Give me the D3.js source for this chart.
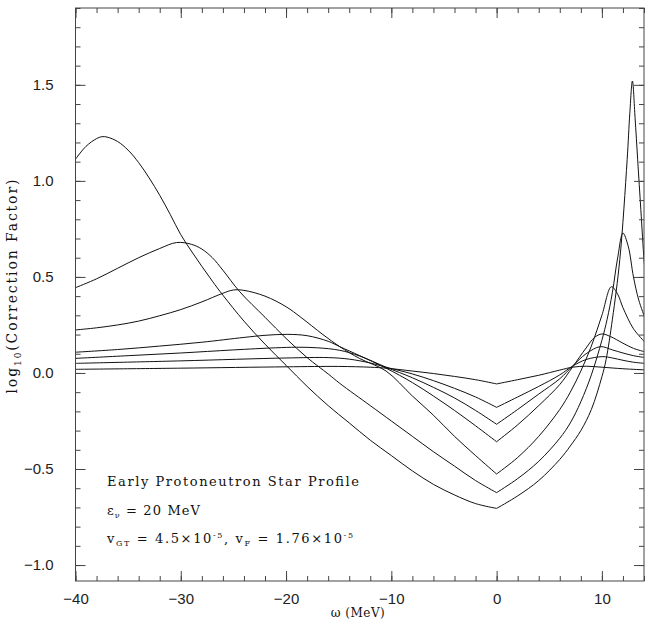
<!DOCTYPE html>
<html>
<head>
<meta charset="utf-8">
<script src="https://cdn.jsdelivr.net/npm/d3@7"></script>
<style>
  body { margin: 0; background: #fff; }
  svg { display: block; }
</style>
</head>
<body>
<div id="chart"></div>
<script>
// each curve: [omega (MeV), log10(correction factor)]
const curveA = [
  [-40, 1.113], [-39, 1.18], [-38, 1.22], [-37.5, 1.23], [-37, 1.228], [-36, 1.205], [-35, 1.16],
  [-34, 1.095], [-33, 1.015], [-32, 0.925], [-31, 0.825], [-30, 0.72], [-29, 0.635], [-28, 0.555],
  [-27, 0.478], [-26, 0.405], [-24, 0.27], [-22, 0.15], [-20, 0.04], [-18, -0.07], [-16, -0.17],
  [-14, -0.26], [-12, -0.35], [-10, -0.43], [-8, -0.51], [-6, -0.58], [-4, -0.635], [-2, -0.68],
  [0, -0.705],
  [2, -0.64], [4, -0.56], [6, -0.45], [7, -0.38], [8, -0.3], [9, -0.19], [10, -0.02], [10.4, 0.07],
  [11, 0.28], [11.7, 0.59], [12.4, 1.11], [12.65, 1.35], [12.9, 1.52], [13.15, 1.33], [13.4, 1.11],
  [13.7, 0.85], [14, 0.59], [14.1, 0.53]
];
const curveB = [
  [-40, 0.444], [-38, 0.49], [-36, 0.545], [-34, 0.6], [-32, 0.648], [-30.4, 0.679], [-29, 0.67],
  [-28, 0.645], [-27, 0.6], [-26, 0.535], [-24.4, 0.423], [-22, 0.29], [-20, 0.18], [-18, 0.08],
  [-16, -0.005], [-14.9, -0.054], [-12, -0.17], [-10, -0.25], [-8, -0.33], [-6, -0.41], [-4, -0.485],
  [-2, -0.56], [0, -0.623],
  [2, -0.55], [4, -0.46], [6, -0.34], [7, -0.26], [8, -0.15], [9, -0.01], [10, 0.17], [10.5, 0.28],
  [11, 0.42], [11.5, 0.6], [12, 0.728], [12.5, 0.66], [13, 0.5], [13.5, 0.38], [14.1, 0.285]
];
const curveC = [
  [-40, 0.224], [-38, 0.235], [-36, 0.25], [-34, 0.27], [-32, 0.298], [-30, 0.33], [-28, 0.37],
  [-26, 0.415], [-25, 0.432], [-24, 0.43], [-22, 0.4], [-20, 0.345], [-18.6, 0.29], [-16.5, 0.2],
  [-14.9, 0.137], [-13, 0.075], [-10.5, 0.01], [-8, -0.12], [-6, -0.22], [-4, -0.33], [-2, -0.43],
  [0, -0.526],
  [2, -0.44], [4, -0.33], [6, -0.19], [7, -0.1], [8, 0.01], [9, 0.14], [10, 0.3], [10.9, 0.449],
  [11.5, 0.41], [12, 0.34], [13, 0.23], [14.1, 0.16]
];
const curveD = [
  [-40, 0.108], [-36, 0.122], [-32, 0.14], [-28, 0.16], [-24, 0.185], [-22, 0.196], [-19.9, 0.201],
  [-18, 0.194], [-16, 0.165], [-14.9, 0.137], [-13, 0.09], [-10.5, 0.025], [-8, -0.05], [-6, -0.12],
  [-4, -0.195], [-2, -0.275], [0, -0.358],
  [2, -0.27], [4, -0.17], [6, -0.06], [7.2, 0.03], [8.5, 0.13], [9.3, 0.185], [10, 0.203],
  [10.8, 0.19], [12, 0.155], [13, 0.128], [14.1, 0.11]
];
const curveE = [
  [-40, 0.076], [-35, 0.09], [-30, 0.104], [-25, 0.12], [-21, 0.131], [-19, 0.134], [-17, 0.131],
  [-14.9, 0.118], [-13, 0.088], [-10.5, 0.03], [-8, -0.025], [-6, -0.075], [-4, -0.13], [-2, -0.195],
  [0, -0.267],
  [2, -0.19], [4, -0.11], [6, -0.03], [7.2, 0.035], [8.5, 0.1], [9.85, 0.137], [11, 0.12],
  [12, 0.104], [13, 0.09], [14.1, 0.08]
];
const curveF = [
  [-40, 0.05], [-30, 0.063], [-20, 0.078], [-16, 0.08], [-14, 0.072], [-12, 0.052], [-10.5, 0.03],
  [-8, -0.005], [-6, -0.04], [-4, -0.08], [-2, -0.125], [0, -0.179],
  [2, -0.125], [4, -0.07], [6, -0.01], [7.2, 0.035], [8.5, 0.07], [10.1, 0.085], [11, 0.078],
  [12, 0.066], [13, 0.056], [14.1, 0.05]
];
const curveG = [
  [-40, 0.019], [-30, 0.025], [-20, 0.032], [-15, 0.034], [-12, 0.03], [-10.5, 0.025], [-8, 0.01],
  [-6, -0.003], [-4, -0.018], [-2, -0.035], [0, -0.057],
  [2, -0.035], [4, -0.012], [6, 0.015], [7.2, 0.03], [8.5, 0.035], [10, 0.03], [12, 0.022],
  [14.1, 0.016]
];
const curves = [curveA, curveB, curveC, curveD, curveE, curveF, curveG];

const xMajorTicks = [-40, -30, -20, -10, 0, 10];
const yMajorTicks = [-1.0, -0.5, 0.0, 0.5, 1.0, 1.5];

const width = 645, height = 619;
const margins = {top: 8, right: 1, bottom: 38, left: 75.5};

const svg = d3.select("#chart")
  .append("svg")
  .attr("width", width)
  .attr("height", height)
  .attr("viewBox", [0, 0, width, height]);

const xScale = d3.scaleLinear()
  .domain([-40, 14])
  .range([margins.left, width - margins.right]);

const yScale = d3.scaleLinear()
  .domain([-1.083, 1.9])
  .range([height - margins.bottom, margins.top]);

const x0 = xScale.range()[0], x1 = xScale.range()[1];
const y0 = yScale.range()[0], y1 = yScale.range()[1];

svg.append("clipPath")
    .attr("id", "plot-clip")
  .append("rect")
    .attr("x", x0)
    .attr("y", y1)
    .attr("width", x1 - x0)
    .attr("height", y0 - y1);

// curves have a cusp at omega = 0, so each side is drawn on its own
const line = d3.line()
  .curve(d3.curveCatmullRom)
  .x(d => xScale(d[0]))
  .y(d => yScale(d[1]));

const pieces = [];
curves.forEach(c => {
  pieces.push(c.filter(d => d[0] <= 0));
  pieces.push(c.filter(d => d[0] >= 0));
});

svg.append("g")
    .attr("clip-path", "url(#plot-clip)")
  .selectAll("path")
  .data(pieces)
  .join("path")
    .attr("d", d => line(d))
    .style("fill", "none")
    .style("stroke", "#111")
    .style("stroke-width", 1);

// axes, IDL style: ticks pointing inwards on all four sides
const minorX = d3.range(-40, 14.01, 2);
const minorY = d3.range(-10, 19.01, 1).map(d => d / 10);
const frameColor = "#444";

const styleAxis = g => {
  g.select(".domain").remove();
  g.selectAll(".tick line").attr("stroke", frameColor);
};

svg.append("g")
    .attr("transform", `translate(0,${y0})`)
  .call(d3.axisBottom(xScale).tickValues(minorX).tickSize(-5).tickFormat(""))
  .call(styleAxis);
svg.append("g")
    .attr("transform", `translate(0,${y0})`)
  .call(d3.axisBottom(xScale).tickValues(xMajorTicks).tickSize(-10).tickPadding(12).tickFormat(d3.format("d")))
  .call(styleAxis)
  .call(g => g.selectAll("text")
    .style("font-family", "'Liberation Sans', Arial, sans-serif")
    .style("font-size", "15px")
    .attr("fill", "#222"));

svg.append("g")
    .attr("transform", `translate(0,${y1})`)
  .call(d3.axisTop(xScale).tickValues(minorX).tickSize(-5).tickFormat(""))
  .call(styleAxis);
svg.append("g")
    .attr("transform", `translate(0,${y1})`)
  .call(d3.axisTop(xScale).tickValues(xMajorTicks).tickSize(-10).tickFormat(""))
  .call(styleAxis);

svg.append("g")
    .attr("transform", `translate(${x0},0)`)
  .call(d3.axisLeft(yScale).tickValues(minorY).tickSize(-5).tickFormat(""))
  .call(styleAxis);
svg.append("g")
    .attr("transform", `translate(${x0},0)`)
  .call(d3.axisLeft(yScale).tickValues(yMajorTicks).tickSize(-10).tickPadding(22).tickFormat(d3.format(".1f")))
  .call(styleAxis)
  .call(g => g.selectAll("text")
    .style("font-family", "'Liberation Sans', Arial, sans-serif")
    .style("font-size", "15px")
    .attr("fill", "#222"));

svg.append("g")
    .attr("transform", `translate(${x1},0)`)
  .call(d3.axisRight(yScale).tickValues(minorY).tickSize(-5).tickFormat(""))
  .call(styleAxis);
svg.append("g")
    .attr("transform", `translate(${x1},0)`)
  .call(d3.axisRight(yScale).tickValues(yMajorTicks).tickSize(-10).tickFormat(""))
  .call(styleAxis);

svg.append("rect")
  .attr("x", x0)
  .attr("y", y1)
  .attr("width", x1 - x0)
  .attr("height", y0 - y1)
  .style("fill", "none")
  .style("stroke", frameColor)
  .style("stroke-width", 1);

// titles
const serif = "'DejaVu Serif', 'Liberation Serif', serif";

const yTitle = svg.append("text")
  .attr("transform", `translate(17,${(y0 + y1) / 2 - 8}) rotate(-90)`)
  .attr("text-anchor", "middle")
  .attr("textLength", 214)
  .attr("lengthAdjust", "spacing")
  .style("font-family", serif)
  .style("font-size", "14px")
  .attr("fill", "#111");
yTitle.append("tspan").text("log");
yTitle.append("tspan").attr("dy", 4).style("font-size", "9px").text("10");
yTitle.append("tspan").attr("dy", -4).text("(Correction Factor)");

svg.append("text")
  .attr("x", (x0 + x1) / 2 - 2)
  .attr("y", height - 2.5)
  .attr("text-anchor", "middle")
  .attr("textLength", 54)
  .attr("lengthAdjust", "spacing")
  .style("font-family", serif)
  .style("font-size", "12px")
  .attr("fill", "#111")
  .text("ω (MeV)");

// annotation block
const note = svg.append("g")
  .style("font-family", serif)
  .style("font-size", "13px")
  .attr("fill", "#111");

note.append("text")
  .attr("x", 107)
  .attr("y", 486)
  .attr("textLength", 252)
  .attr("lengthAdjust", "spacing")
  .text("Early Protoneutron Star Profile");

const l2 = note.append("text")
  .attr("x", 107)
  .attr("y", 515)
  .attr("textLength", 93)
  .attr("lengthAdjust", "spacing");
l2.append("tspan").text("ε");
l2.append("tspan").attr("dy", 3).style("font-size", "8px").text("ν");
l2.append("tspan").attr("dy", -3).text(" = 20 MeV");

const l3 = note.append("text")
  .attr("x", 107)
  .attr("y", 543)
  .attr("textLength", 246)
  .attr("lengthAdjust", "spacing");
l3.append("tspan").text("v");
l3.append("tspan").attr("dy", 3).style("font-size", "8px").text("GT");
l3.append("tspan").attr("dy", -3).text(" = 4.5×10");
l3.append("tspan").attr("dy", -5).style("font-size", "8px").text("-5");
l3.append("tspan").attr("dy", 5).text(", v");
l3.append("tspan").attr("dy", 3).style("font-size", "8px").text("F");
l3.append("tspan").attr("dy", -3).text(" = 1.76×10");
l3.append("tspan").attr("dy", -5).style("font-size", "8px").text("-5");
</script>
</body>
</html>
